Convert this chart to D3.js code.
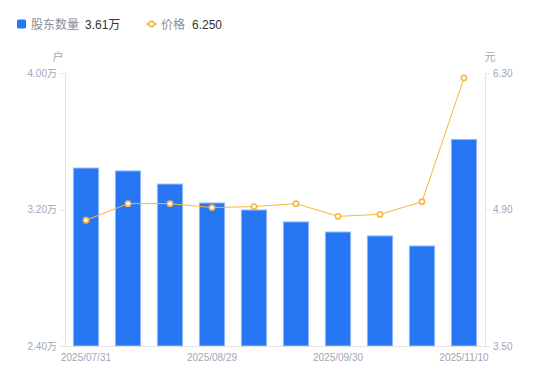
<!DOCTYPE html>
<html><head><meta charset="utf-8">
<script src="https://cdn.jsdelivr.net/npm/d3@7"></script>
<style>body{margin:0;background:#fff;font-family:"Liberation Sans","Noto Sans CJK SC",sans-serif;}</style>
</head><body>
<svg id="c" width="550" height="381"></svg>
<script>
const categories = ["2025/07/31","2025/08/08","2025/08/20","2025/08/29","2025/09/10","2025/09/19","2025/09/30","2025/10/20","2025/10/31","2025/11/10"];
const holders = [3.443, 3.426, 3.349, 3.238, 3.197, 3.127, 3.068, 3.045, 2.986, 3.61];
const prices = [4.79, 4.96, 4.96, 4.92, 4.93, 4.96, 4.83, 4.85, 4.98, 6.25];
const leftTicks = [2.40, 3.20, 4.00];
const rightTicks = [3.50, 4.90, 6.30];
const shownLabels = ["2025/07/31","2025/08/29","2025/09/30","2025/11/10"];

const FONT = '"Liberation Sans","Noto Sans CJK SC",sans-serif';
const svg = d3.select("#c").style("font-family", FONT);
const L = 65, R = 485, T = 73, B = 346;
const x = d3.scaleBand().domain(categories).range([L, R]).paddingInner(0.4).paddingOuter(0.2);
const yL = d3.scaleLinear().domain([2.40, 4.00]).range([B, T]);
const yR = d3.scaleLinear().domain([3.50, 6.30]).range([B, T]);
const axisColor = "#e3e3e6", textColor = "#a3a6b4";

// bars
svg.append("g").selectAll("rect").data(holders).join("rect")
  .attr("x", (d,i) => x(categories[i]))
  .attr("width", x.bandwidth())
  .attr("y", d => yL(d))
  .attr("height", d => B - yL(d))
  .attr("fill", "#2777f5")
  .attr("stroke", "#8fb8fa").attr("stroke-width", 1);

// axes
const gl = svg.append("g").attr("transform", `translate(${L},0)`)
  .call(d3.axisLeft(yL).tickValues(leftTicks).tickSize(5).tickPadding(3).tickFormat(d => d.toFixed(2) + "万"));
const gr = svg.append("g").attr("transform", `translate(${R},0)`)
  .call(d3.axisRight(yR).tickValues(rightTicks).tickSize(5).tickPadding(3).tickFormat(d => d.toFixed(2)));
const gb = svg.append("g").attr("transform", `translate(0,${B})`)
  .call(d3.axisBottom(x).tickValues(shownLabels).tickSize(0).tickPadding(8));
[gl, gr, gb].forEach(g => {
  g.select(".domain").attr("stroke", axisColor);
  g.selectAll(".tick line").attr("stroke", axisColor);
  g.selectAll("text").attr("fill", textColor).style("font-size", "10px").style("font-family", FONT);
});
gb.select(".domain").attr("d", `M${L},0.5H${R}`);

// units
svg.append("text").attr("x", 58).attr("y", 61).attr("text-anchor", "middle").attr("fill", textColor).style("font-size", "11px").text("户");
svg.append("text").attr("x", 490).attr("y", 61).attr("text-anchor", "middle").attr("fill", textColor).style("font-size", "11px").text("元");

// line
const cx = (d,i) => x(categories[i]) + x.bandwidth()/2;
const line = d3.line().x(cx).y(d => yR(d));
svg.append("path").datum(prices).attr("d", line).attr("fill", "none").attr("stroke", "#f7b740").attr("stroke-width", 1);
svg.append("g").selectAll("circle").data(prices).join("circle")
  .attr("cx", cx).attr("cy", d => yR(d)).attr("r", 2.6)
  .attr("fill", "#fff").attr("stroke", "#f7b740").attr("stroke-width", 1.6);

// legend
const lg = svg.append("g").style("font-size", "12px");
lg.append("rect").attr("x", 17).attr("y", 19.5).attr("width", 9).attr("height", 9).attr("rx", 1.5).attr("fill", "#2777f5");
lg.append("text").attr("x", 31).attr("y", 29).attr("fill", "#8a8d99").text("股东数量");
lg.append("text").attr("x", 85).attr("y", 29).attr("fill", "#333").text(holders[holders.length-1].toFixed(2) + "万");
lg.append("line").attr("x1", 146).attr("x2", 157).attr("y1", 24).attr("y2", 24).attr("stroke", "#f7b740").attr("stroke-width", 1.5);
lg.append("circle").attr("cx", 151.5).attr("cy", 24).attr("r", 2.6).attr("fill", "#fff").attr("stroke", "#f7b740").attr("stroke-width", 1.6);
lg.append("text").attr("x", 161).attr("y", 29).attr("fill", "#8a8d99").text("价格");
lg.append("text").attr("x", 192).attr("y", 29).attr("fill", "#333").text(prices[prices.length-1].toFixed(3));
</script>
</body></html>
